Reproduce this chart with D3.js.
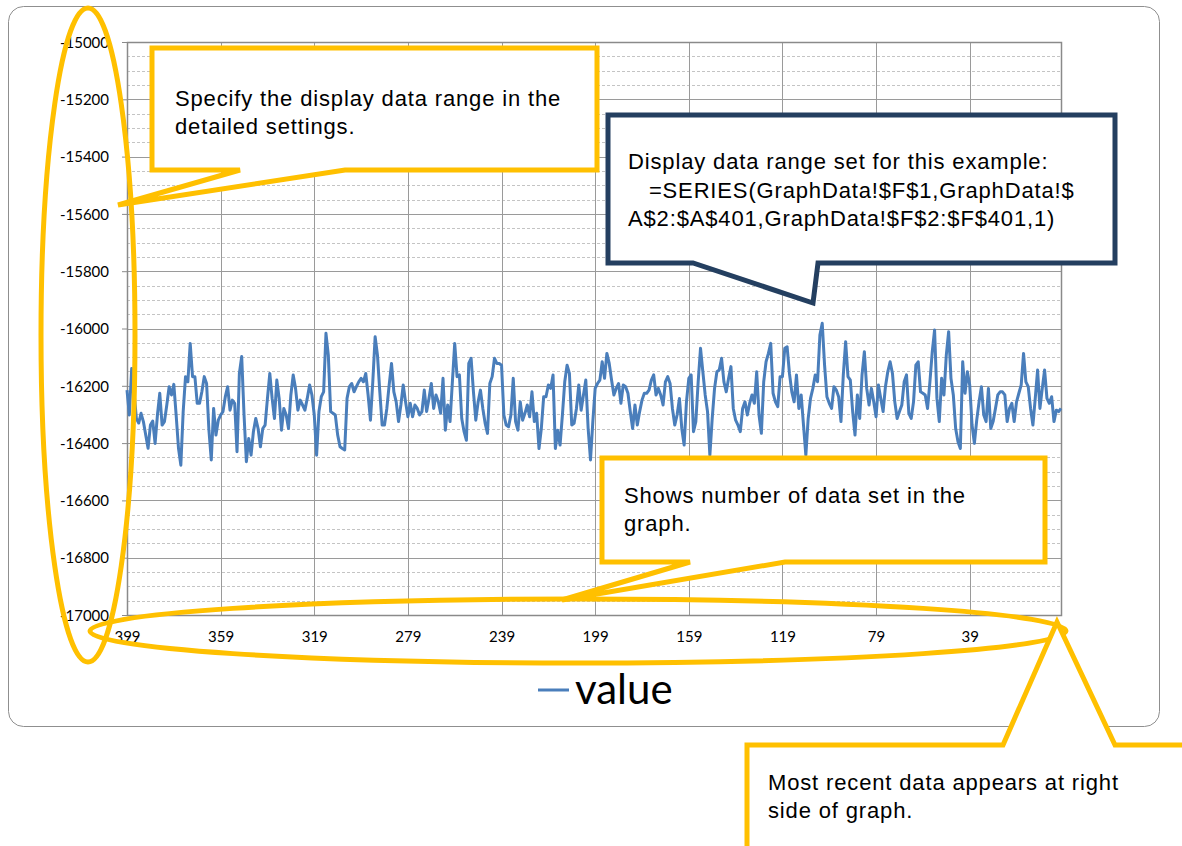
<!DOCTYPE html>
<html lang="en">
<head>
  <meta charset="UTF-8">
  <title>value</title>
  <script src="https://d3js.org/d3.v7.min.js"></script>
  <style>
    body { margin: 0; background: #fff; }
    svg { display: block; }
    .tick text { font-family: Lato, "Open Sans", sans-serif; font-size: 15px; fill: #000; }
    .note { font-family: "Liberation Sans", Arial, sans-serif; font-size: 22px; letter-spacing: 0.85px; fill: #000; }
  </style>
</head>
<body>
  <div id="chart"></div>

  <script>
    // categories run from 399 (oldest, left) down to 0 (newest, right)
    const categories = d3.range(399, -1, -1);
    const xTickLabels = [399, 359, 319, 279, 239, 199, 159, 119, 79, 39];
    const yTickLabels = [-15000, -15200, -15400, -15600, -15800, -16000, -16200, -16400, -16600, -16800, -17000];

    // values, left to right
    const values = [
      -16215, -16302, -16140, -16220, -16314, -16330, -16296, -16325, -16372, -16418,
      -16337, -16323, -16401, -16302, -16226, -16337, -16325, -16267, -16203, -16232,
      -16195, -16302, -16418, -16477, -16290, -16168, -16186, -16052, -16168, -16168,
      -16261, -16261, -16220, -16168, -16192, -16355, -16459, -16279, -16372, -16320,
      -16302, -16290, -16238, -16203, -16285, -16250, -16261, -16430, -16157, -16098,
      -16302, -16465, -16384, -16442, -16360, -16314, -16349, -16413, -16349, -16337,
      -16244, -16157, -16244, -16314, -16180, -16244, -16355, -16279, -16302, -16349,
      -16232, -16162, -16209, -16285, -16250, -16267, -16285, -16244, -16197, -16232,
      -16302, -16442, -16290, -16238, -16221, -16017, -16093, -16290, -16296, -16302,
      -16372, -16413, -16419, -16424, -16244, -16203, -16192, -16221, -16203, -16186,
      -16174, -16186, -16157, -16232, -16320, -16186, -16029, -16093, -16221, -16337,
      -16337, -16279, -16197, -16122, -16221, -16256, -16325, -16267, -16197, -16256,
      -16308, -16261, -16308, -16267, -16279, -16302, -16290, -16215, -16290, -16244,
      -16192, -16279, -16232, -16256, -16296, -16174, -16355, -16267, -16325, -16186,
      -16052, -16168, -16162, -16314, -16360, -16390, -16122, -16104, -16221, -16320,
      -16256, -16215, -16279, -16331, -16366, -16192, -16168, -16104, -16122, -16122,
      -16128, -16302, -16337, -16343, -16302, -16174, -16325, -16355, -16256, -16320,
      -16296, -16267, -16308, -16221, -16325, -16296, -16419, -16349, -16238, -16238,
      -16197, -16209, -16162, -16419, -16355, -16407, -16302, -16186, -16128, -16157,
      -16337, -16331, -16279, -16197, -16285, -16232, -16180, -16349, -16459, -16325,
      -16209, -16192, -16180, -16116, -16174, -16087, -16122, -16180, -16232, -16209,
      -16192, -16261, -16197, -16203, -16226, -16290, -16349, -16267, -16337, -16290,
      -16250, -16226, -16226, -16215, -16180, -16162, -16232, -16209, -16232, -16267,
      -16186, -16168, -16192, -16279, -16337, -16302, -16244, -16349, -16407, -16256,
      -16174, -16162, -16360, -16325, -16186, -16069, -16151, -16232, -16290, -16442,
      -16314, -16209, -16151, -16145, -16104, -16186, -16221, -16174, -16133, -16279,
      -16320, -16337, -16360, -16279, -16256, -16302, -16261, -16232, -16261, -16151,
      -16302, -16366, -16186, -16116, -16087, -16052, -16226, -16256, -16273, -16168,
      -16168, -16069, -16064, -16157, -16221, -16256, -16162, -16279, -16232, -16337,
      -16442, -16314, -16244, -16209, -16162, -16186, -16023, -15982, -16128, -16238,
      -16261, -16279, -16203, -16215, -16238, -16325, -16162, -16046, -16168, -16180,
      -16290, -16372, -16232, -16314, -16162, -16081, -16209, -16267, -16209, -16256,
      -16308, -16197, -16244, -16290, -16203, -16151, -16116, -16157, -16256, -16314,
      -16290, -16267, -16186, -16162, -16296, -16314, -16256, -16128, -16116, -16221,
      -16226, -16232, -16279, -16186, -16081, -16005, -16244, -16325, -16174, -16232,
      -16093, -16011, -16174, -16232, -16349, -16395, -16419, -16116, -16226, -16151,
      -16197, -16337, -16401, -16320, -16256, -16203, -16302, -16325, -16209, -16349,
      -16325, -16279, -16232, -16221, -16221, -16232, -16325, -16279, -16261, -16325,
      -16256, -16226, -16197, -16087, -16186, -16203, -16279, -16337, -16244, -16145,
      -16279, -16209, -16145, -16244, -16261, -16238, -16325, -16285, -16290, -16279
    ];
    const seriesName = "value";

    const data = categories.map((c, i) => ({ cat: c, v: values[i] }));

    const W = 1182, H = 846;
    const plot = { left: 127, right: 1061, top: 42, bottom: 615 };

    const svg = d3.select("#chart").append("svg")
      .attr("width", W).attr("height", H);

    // chart frame
    svg.append("rect")
      .attr("x", 8.5).attr("y", 6.5)
      .attr("width", 1151).attr("height", 720)
      .attr("rx", 15)
      .attr("fill", "#fff").attr("stroke", "#8f8f8f").attr("stroke-width", 1);

    const x = d3.scalePoint().domain(categories).range([plot.left, plot.right]);
    const y = d3.scaleLinear().domain([-17000, -15000]).range([plot.bottom, plot.top]);

    // minor gridlines every 50
    const minor = y.ticks(40).filter(v => v % 200 !== 0);
    svg.append("g").selectAll("line").data(minor).join("line")
      .attr("x1", plot.left).attr("x2", plot.right)
      .attr("y1", d => Math.round(y(d)) + 0.5).attr("y2", d => Math.round(y(d)) + 0.5)
      .attr("stroke", "#c4c4c4").attr("stroke-dasharray", "3,2");

    // major horizontal gridlines
    svg.append("g").selectAll("line").data(yTickLabels).join("line")
      .attr("x1", plot.left).attr("x2", plot.right)
      .attr("y1", d => Math.round(y(d)) + 0.5).attr("y2", d => Math.round(y(d)) + 0.5)
      .attr("stroke", "#9a9a9a");

    // vertical gridlines
    svg.append("g").selectAll("line").data(xTickLabels).join("line")
      .attr("x1", d => Math.round(x(d)) + 0.5).attr("x2", d => Math.round(x(d)) + 0.5)
      .attr("y1", plot.top).attr("y2", plot.bottom)
      .attr("stroke", "#9a9a9a");

    // plot border
    svg.append("rect")
      .attr("x", plot.left + 0.5).attr("y", plot.top + 0.5)
      .attr("width", plot.right - plot.left).attr("height", plot.bottom - plot.top)
      .attr("fill", "none").attr("stroke", "#8a8a8a").attr("stroke-width", 1.5);

    // axes
    const yAxis = svg.append("g")
      .attr("transform", `translate(${plot.left},0)`)
      .call(d3.axisLeft(y).tickValues(yTickLabels).tickSize(5).tickPadding(13).tickFormat(d => d));
    yAxis.select(".domain").remove();
    yAxis.selectAll(".tick line").attr("stroke", "#8a8a8a");
    yAxis.selectAll(".tick text").attr("dy", "0.35em");

    const xAxis = svg.append("g")
      .attr("transform", `translate(0,${plot.bottom})`)
      .call(d3.axisBottom(x).tickValues(xTickLabels).tickSize(0).tickPadding(16));
    xAxis.select(".domain").remove();

    // series
    const line = d3.line().x(d => x(d.cat)).y(d => y(d.v));
    svg.append("path").datum(data)
      .attr("d", line)
      .attr("fill", "none")
      .attr("stroke", "#4a7ebb")
      .attr("stroke-width", 3)
      .attr("stroke-linejoin", "round");

    // legend
    svg.append("line")
      .attr("x1", 538).attr("x2", 569).attr("y1", 690).attr("y2", 690)
      .attr("stroke", "#4a7ebb").attr("stroke-width", 3);
    svg.append("text")
      .attr("x", 575).attr("y", 704)
      .style("font-family", "Lato, 'Open Sans', sans-serif")
      .style("font-size", "42px")
      .text(seriesName);

    // annotations
    const yellow = "#ffc000", navy = "#243f60";
    const ann = svg.append("g").attr("fill", "none").attr("stroke-width", 5);

    ann.append("ellipse")
      .attr("cx", 88).attr("cy", 335).attr("rx", 47).attr("ry", 327)
      .attr("stroke", yellow);
    ann.append("ellipse")
      .attr("cx", 578).attr("cy", 631).attr("rx", 488).attr("ry", 32)
      .attr("stroke", yellow);

    function callout(pts, color) {
      svg.append("path")
        .attr("d", "M" + pts.map(p => p.join(",")).join("L") + "Z")
        .attr("fill", "#fff").attr("stroke", color).attr("stroke-width", 5)
        .attr("stroke-linejoin", "miter");
    }
    function note(lines, x0, y0, dy) {
      const t = svg.append("text").attr("class", "note");
      lines.forEach((s, i) => {
        t.append("tspan").attr("x", x0).attr("y", y0 + i * dy)
          .attr("xml:space", "preserve").text(s);
      });
    }

    callout([[152, 48], [597, 48], [597, 170], [345, 170], [118, 205], [240, 170], [152, 170]], yellow);
    note(["Specify the display data range in the", "detailed settings."], 175, 106, 28);

    callout([[608, 115], [1115, 115], [1115, 263], [818, 263], [813, 303], [693, 263], [608, 263]], navy);
    note(["Display data range set for this example:",
          "   =SERIES(GraphData!$F$1,GraphData!$",
          "A$2:$A$401,GraphData!$F$2:$F$401,1)"], 628, 169, 28.5);

    callout([[602, 458], [1045, 458], [1045, 562], [785, 562], [562, 600], [690, 562], [602, 562]], yellow);
    note(["Shows number of data set in the", "graph."], 624, 503, 28);

    callout([[747, 745], [1003, 745], [1057, 622], [1115, 745], [1200, 745], [1200, 900], [747, 900]], yellow);
    note(["Most recent data appears at right", "side of graph."], 768, 790, 28);
  </script>
</body>
</html>
